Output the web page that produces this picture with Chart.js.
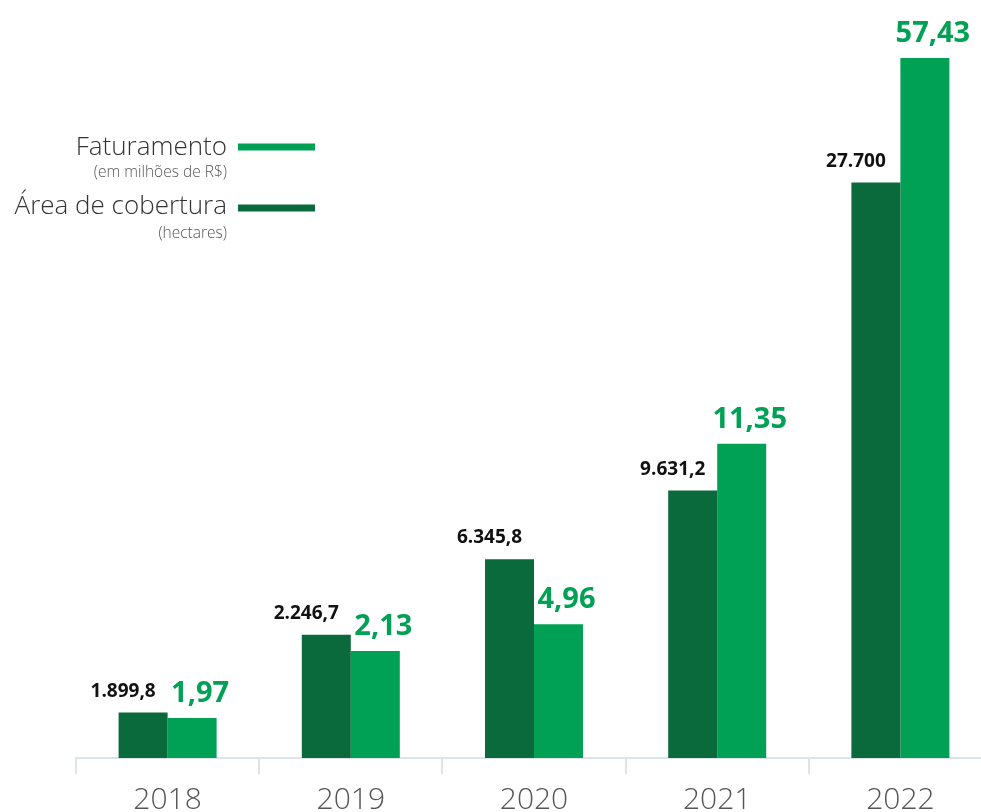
<!DOCTYPE html>
<html>
<head>
<meta charset="utf-8">
<script src="https://cdn.jsdelivr.net/npm/chart.js@4/dist/chart.umd.min.js"></script>
<style>
  html, body { margin: 0; padding: 0; background: #fff; overflow: hidden; }
  #wrap { width: 981px; height: 812px; overflow: hidden; }
</style>
</head>
<body>
<div id="wrap"><canvas id="chart" width="992" height="826"></canvas></div>
<script>
const years = ['2018', '2019', '2020', '2021', '2022'];

// printed values
const areaLabels = ['1.899,8', '2.246,7', '6.345,8', '9.631,2', '27.700'];
const faturamentoLabels = ['1,97', '2,13', '4,96', '11,35', '57,43'];

// drawn bar heights (tallest bar = 100); the source is not to scale
const areaHeights = [6.5, 17.6, 28.4, 38.2, 82.2];
const faturamentoHeights = [5.7, 15.3, 19.1, 44.9, 100];

const DARK = '#0a6a3b';
const LIGHT = '#00a155';
const FONT = "'Open Sans', 'Noto Sans', sans-serif";

const valueLabels = {
  id: 'valueLabels',
  afterDatasetsDraw(chart) {
    const ctx = chart.ctx;
    ctx.save();
    ctx.textBaseline = 'alphabetic';
    ctx.textAlign = 'center';
    chart.getDatasetMeta(0).data.forEach((bar, i) => {
      ctx.font = `bold 19px ${FONT}`;
      ctx.fillStyle = '#111';
      ctx.fillText(areaLabels[i], bar.x - 20, bar.y - 16);
    });
    chart.getDatasetMeta(1).data.forEach((bar, i) => {
      ctx.font = `bold 29px ${FONT}`;
      ctx.fillStyle = LIGHT;
      ctx.fillText(faturamentoLabels[i], bar.x + 8, bar.y - 16);
    });
    ctx.restore();
  }
};

const sideLegend = {
  id: 'sideLegend',
  afterDraw(chart) {
    const ctx = chart.ctx;
    ctx.save();
    ctx.textAlign = 'right';
    ctx.textBaseline = 'alphabetic';

    ctx.font = `300 26px ${FONT}`;
    ctx.fillStyle = '#333';
    ctx.fillText('Faturamento', 227, 155);
    ctx.fillText('Área de cobertura', 227, 214);

    ctx.font = `300 15.5px ${FONT}`;
    ctx.fillStyle = '#555';
    ctx.fillText('(em milhões de R$)', 227, 177);
    ctx.fillText('(hectares)', 227, 238);

    ctx.lineWidth = 7;
    ctx.strokeStyle = LIGHT;
    ctx.beginPath(); ctx.moveTo(238, 147); ctx.lineTo(315, 147); ctx.stroke();
    ctx.strokeStyle = DARK;
    ctx.beginPath(); ctx.moveTo(238, 208); ctx.lineTo(315, 208); ctx.stroke();
    ctx.restore();
  }
};

new Chart(document.getElementById('chart'), {
  type: 'bar',
  data: {
    labels: years,
    datasets: [
      { label: 'Área de cobertura (hectares)', data: areaHeights, backgroundColor: DARK },
      { label: 'Faturamento (em milhões de R$)', data: faturamentoHeights, backgroundColor: LIGHT },
    ],
  },
  options: {
    responsive: false,
    animation: false,
    layout: { padding: { left: 76, top: 58, right: 0, bottom: 0 } },
    datasets: {
      bar: { categoryPercentage: 0.535, barPercentage: 1 },
    },
    plugins: {
      legend: { display: false },
      tooltip: { enabled: false },
    },
    scales: {
      x: {
        grid: {
          offset: true,
          drawOnChartArea: false,
          drawTicks: true,
          tickLength: 16,
          color: '#dde3ea',
          lineWidth: 2,
        },
        border: { color: '#dde3ea', width: 2 },
        ticks: {
          padding: 8,
          color: '#555',
          font: { family: FONT, size: 30, weight: '300', lineHeight: 1.2 },
        },
      },
      y: {
        display: false,
        min: 0,
        max: 100,
      },
    },
  },
  plugins: [valueLabels, sideLegend],
});
</script>
</body>
</html>
